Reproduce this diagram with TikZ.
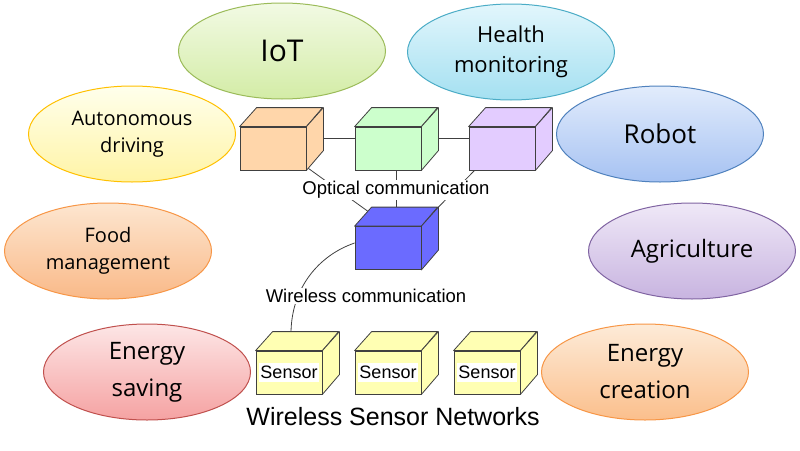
\documentclass[tikz,border=0pt]{standalone}
\usepackage{fontspec}
\setmainfont{Open Sans}
\newfontfamily\gothic{Liberation Sans}
\usetikzlibrary{shapes.geometric,calc}

\definecolor{edgegray}{HTML}{404040}
\definecolor{boxorange}{HTML}{FFD6AA}
\definecolor{boxgreen}{HTML}{CCFFCC}
\definecolor{boxpurple}{HTML}{E3CCFF}
\definecolor{boxblue}{HTML}{6B6BFF}
\definecolor{boxyellow}{HTML}{FFFFB3}
% ellipse borders and shading (top / bottom)
\definecolor{iotline}{HTML}{9BBB59}   \definecolor{iottop}{HTML}{F2FAE4}   \definecolor{iotbot}{HTML}{D3ECA6}
\definecolor{hltline}{HTML}{4BACC6}   \definecolor{hlttop}{HTML}{E2F6FC}   \definecolor{hltbot}{HTML}{A4E0F1}
\definecolor{autline}{HTML}{FFC000}   \definecolor{auttop}{HTML}{FFFFEC}   \definecolor{autbot}{HTML}{FFF4A6}
\definecolor{robline}{HTML}{4F81BD}   \definecolor{robtop}{HTML}{E2ECFC}   \definecolor{robbot}{HTML}{A6C2F2}
\definecolor{fodline}{HTML}{F79646}   \definecolor{fodtop}{HTML}{FDE6D0}   \definecolor{fodbot}{HTML}{F9B988}
\definecolor{agrline}{HTML}{8064A2}   \definecolor{agrtop}{HTML}{EFE8F7}   \definecolor{agrbot}{HTML}{C8B4E0}
\definecolor{savline}{HTML}{C0504D}   \definecolor{savtop}{HTML}{FDE6E6}   \definecolor{savbot}{HTML}{F5A2A2}
\definecolor{creline}{HTML}{F79646}   \definecolor{cretop}{HTML}{FDEBD8}   \definecolor{crebot}{HTML}{FBBF8C}

\begin{document}
\begin{tikzpicture}[x=1pt,y=-1pt,
    field/.style n args={3}{ellipse, draw=#1, line width=1pt, top color=#2, bottom color=#3,
      minimum width=207pt, minimum height=96pt, inner sep=0pt, align=center},
    box/.style={draw=edgegray, line width=0.8pt, fill=#1, minimum width=66pt, minimum height=43pt, inner sep=0pt},
    link/.style={draw=edgegray, line width=0.8pt},
    caption/.style={fill=white, inner sep=1pt, font=\gothic\fontsize{18.5}{20}\selectfont},
    tag/.style={fill=white, inner sep=0pt, minimum width=60pt, minimum height=19pt, font=\gothic\fontsize{18}{19}\selectfont}]
    \useasboundingbox (0,0) rectangle (800,450);

    % Application fields
    \node[field={iotline}{iottop}{iotbot}, font=\fontsize{30}{32}\selectfont] (iot) at (282,51) {IoT};
    \node[field={hltline}{hlttop}{hltbot}, font=\fontsize{22}{30}\selectfont] (health) at (511,52) {Health\\monitoring};
    \node[field={autline}{auttop}{autbot}, font=\fontsize{20}{27}\selectfont] (auto) at (132,134) {Autonomous\\driving};
    \node[field={robline}{robtop}{robbot}, font=\fontsize{26}{30}\selectfont] (robot) at (660,134) {Robot};
    \node[field={fodline}{fodtop}{fodbot}, font=\fontsize{20}{27}\selectfont] (food) at (108,251) {Food\\management};
    \node[field={agrline}{agrtop}{agrbot}, font=\fontsize{24}{30}\selectfont] (agri) at (692,251) {Agriculture};
    \node[field={savline}{savtop}{savbot}, font=\fontsize{24}{37}\selectfont] (esave) at (147,372) {Energy\\saving};
    \node[field={creline}{cretop}{crebot}, font=\fontsize{24}{37}\selectfont] (ecreate) at (645,372) {Energy\\creation};

    % Cubes (front faces)
    \node[box=boxorange] (optA) at (273,148.5) {};
    \node[box=boxgreen] (optB) at (388,148.5) {};
    \node[box=boxpurple] (optC) at (502,148.5) {};
    \node[box=boxblue] (hub) at (388,248) {};
    \node[box=boxyellow] (sensA) at (289,372.5) {};
    \node[box=boxyellow] (sensB) at (388,372.5) {};
    \node[box=boxyellow] (sensC) at (487,372.5) {};

    % Cubes (top and side faces)
    \foreach \c/\col in {optA/boxorange, optB/boxgreen, optC/boxpurple, hub/boxblue,
                         sensA/boxyellow, sensB/boxyellow, sensC/boxyellow} {
        \draw[link, fill=\col, line join=round] (\c.north west) -- ++(17,-19) -- ++(66,0) -- (\c.north east) -- cycle;
        \draw[link, fill=\col, line join=round] (\c.north east) -- ++(17,-19) -- ++(0,43) -- (\c.south east) -- cycle;
    }

    % Optical links
    \draw[link] ($(optA.east)+(17,-10)$) -- ($(optB.west)+(0,-10)$);
    \draw[link] ($(optB.east)+(17,-10)$) -- ($(optC.west)+(0,-10)$);
    \draw[link] ($(optA.south east)+(2,-2)$) -- ($(hub.north west)+(13,-15)$);
    \draw[link] ($(optB.south)+(8,0)$) -- ($(hub.north)+(8,-19)$);
    \draw[link] ($(optC.south west)+(6,0)$) -- ($(hub.north east)+(17,-19)$);

    % Wireless link
    \draw[link] ([yshift=5pt]hub.west) .. controls ($(hub.west)+(-35,7)$) and ($(sensA.north)+(3,-64)$) .. ($(sensA.north)+(2,-19)$);

    % Labels
    \node[caption] (optlabel) at (396,190) {Optical communication};
    \node[caption] (wirelabel) at (366,296) {Wireless communication};
    \node[tag] (tagA) at (sensA) {Sensor};
    \node[tag] (tagB) at (sensB) {Sensor};
    \node[tag] (tagC) at (sensC) {Sensor};
    \node[font=\gothic\fontsize{25}{28}\selectfont] (wsn) at (393,417) {Wireless Sensor Networks};
\end{tikzpicture}
\end{document}
